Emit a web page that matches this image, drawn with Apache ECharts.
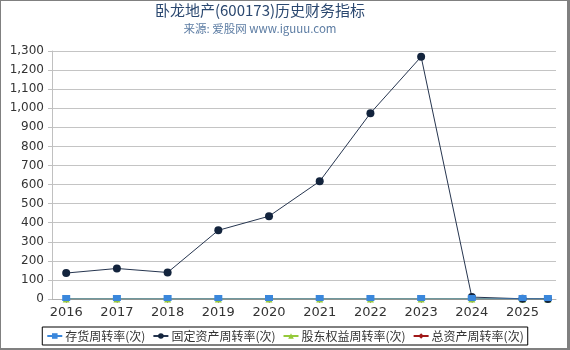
<!DOCTYPE html>
<html>
<head>
<meta charset="utf-8">
<script src="https://cdn.jsdelivr.net/npm/echarts@6/dist/echarts.min.js"></script>
<style>
html, body { margin: 0; padding: 0; background: #fff; }
#wrap { position: relative; width: 570px; height: 350px; }
#chart { position: absolute; left: 0; top: 0; width: 570px; height: 350px; }
#frame { position: absolute; left: 0; top: 0; width: 570px; height: 350px; box-sizing: border-box;
  border-style: solid; border-color: #808080; border-width: 1px 3px 2px 1px; pointer-events: none; }
</style>
</head>
<body>
<div id="wrap"><div id="chart"></div><div id="frame"></div></div>
<script>
// 报告期（年份, 最后一个为2025年中报）
var periods = [2016, 2017, 2018, 2019, 2020, 2021, 2022, 2023, 2024, 2025, 2025.5];
var yearTicks = [2016, 2017, 2018, 2019, 2020, 2021, 2022, 2023, 2024, 2025];
// 各指标数值
var inventoryTurnover = [0.12, 0.15, 0.13, 0.12, 0.1, 0.12, 0.14, 0.16, 0.2, 0.1, 0.05];
var fixedAssetTurnover = [136, 160, 139, 360, 434, 617, 974, 1270, 10, 1.2, 0.6];
var equityTurnover = [0.3, 0.35, 0.32, 0.3, 0.28, 0.3, 0.35, 0.4, 0.5, 0.2, 0.1];
var totalAssetTurnover = [0.08, 0.1, 0.09, 0.08, 0.07, 0.08, 0.1, 0.12, 0.15, 0.06, 0.03];
var seriesNames = ['存货周转率(次)', '固定资产周转率(次)', '股东权益周转率(次)', '总资产周转率(次)'];

function pairs(vals) {
	var out = [];
	for (var i in periods) {
		out.push([periods[i], vals[i]]);
	}
	return out;
}

var myChart = echarts.init(document.getElementById('chart'));
myChart.setOption({
	animation: false,
	title: {
		text: '卧龙地产(600173)历史财务指标',
		subtext: '来源: 爱股网 www.iguuu.com',
		left: 255,
		textAlign: 'center',
		top: -2,
		itemGap: 5,
		textStyle: { fontSize: 15, fontWeight: 'normal', color: '#2b4870', fontFamily: 'Noto Sans CJK SC' },
		subtextStyle: { fontSize: 11.5, color: '#5c7ca3', fontFamily: 'Noto Sans CJK SC' }
	},
	legend: {
		data: seriesNames,
		left: 'center',
		top: 327,
		padding: [3, 4],
		itemGap: 7,
		itemWidth: 15,
		itemHeight: 7,
		borderColor: '#000',
		borderWidth: 1,
		textStyle: { fontSize: 12, color: '#333', fontFamily: 'Noto Sans CJK SC', padding: [0, 0, 0, -2] }
	},
	grid: { left: 52, right: 14, top: 51, bottom: 51, containLabel: false },
	xAxis: {
		type: 'value',
		min: 2015.72,
		max: 2025.66,
		splitLine: { show: false },
		axisLine: { lineStyle: { color: '#b0b0b0' } },
		axisTick: { customValues: yearTicks, length: 4, lineStyle: { color: '#b0b0b0' } },
		axisLabel: { customValues: yearTicks, fontSize: 13, margin: 7, color: '#333', fontFamily: 'DejaVu Sans',
			formatter: function (v) { return String(v); } }
	},
	yAxis: {
		type: 'value',
		min: 0,
		max: 1300,
		interval: 100,
		axisLine: { show: true, lineStyle: { color: '#c0c0c0' } },
		axisTick: { show: true, length: 4, lineStyle: { color: '#c0c0c0' } },
		splitLine: { lineStyle: { color: '#c4c4c4' } },
		axisLabel: { fontSize: 12, margin: 8, color: '#333', fontFamily: 'DejaVu Sans' }
	},
	series: [
		{
			name: seriesNames[0], type: 'line', data: pairs(inventoryTurnover), z: 4,
			symbol: 'rect', symbolSize: [8, 6], symbolOffset: [0, -1],
			itemStyle: { color: '#3a87dc' }, lineStyle: { width: 1, color: '#3a87dc' }
		},
		{
			name: seriesNames[1], type: 'line', data: pairs(fixedAssetTurnover), z: 3,
			symbol: 'circle', symbolSize: 8,
			itemStyle: { color: '#13243d' }, lineStyle: { width: 1, color: '#26354f' }
		},
		{
			name: seriesNames[2], type: 'line', data: pairs(equityTurnover), z: 2,
			symbol: 'triangle', symbolSize: 7,
			itemStyle: { color: '#95c93a' }, lineStyle: { width: 1, color: '#95c93a' }
		},
		{
			name: seriesNames[3], type: 'line', data: pairs(totalAssetTurnover), z: 1,
			symbol: 'diamond', symbolSize: 7,
			itemStyle: { color: '#a01818' }, lineStyle: { width: 1, color: '#a01818' }
		}
	]
});
</script>
</body>
</html>
